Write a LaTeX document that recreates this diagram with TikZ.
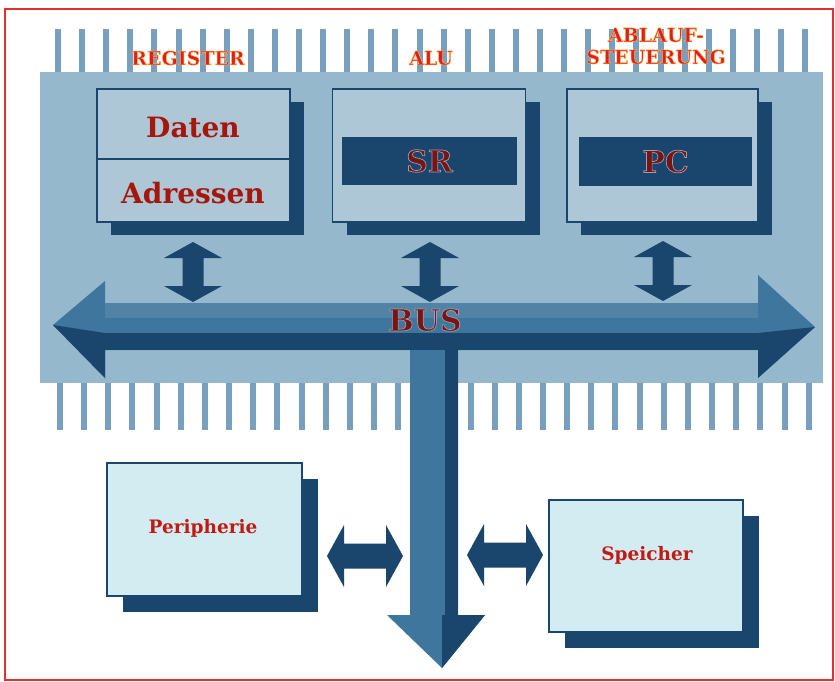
\documentclass[tikz,border=0pt]{standalone}
\usepackage{fontspec}
\setmainfont{DejaVu Serif}
\usetikzlibrary{shadows}
\definecolor{framered}{RGB}{232,45,45}
\definecolor{panel}{RGB}{150,184,205}
\definecolor{stripe}{RGB}{120,160,190}
\definecolor{boxtop}{RGB}{174,199,215}
\definecolor{boxlow}{RGB}{210,236,242}
\definecolor{darkblue}{RGB}{26,70,110}
\definecolor{midblue}{RGB}{62,118,158}
\definecolor{titlered}{RGB}{228,30,20}
\definecolor{textred}{RGB}{165,22,12}
\definecolor{labred}{RGB}{120,20,20}
% outlined text: fill + stroke in a given stroke colour (r g b in 0..1)
\newcommand\outltext[3]{\special{pdf:code q 2 Tr #2 w #1 RG}#3\special{pdf:code Q}}
\tikzset{
  shadowed/.style={drop shadow={shadow xshift=14pt,shadow yshift=-13pt,fill=darkblue,opacity=1}},
  topbox/.style={draw=darkblue,line width=1.2pt,fill=boxtop,minimum width=193pt,minimum height=133pt,inner sep=0pt,shadowed},
  lowbox/.style={draw=darkblue,line width=1.2pt,fill=boxlow,minimum width=195pt,minimum height=133pt,inner sep=0pt,
     drop shadow={shadow xshift=16pt,shadow yshift=-16pt,fill=darkblue,opacity=1}},
  bar/.style={fill=darkblue,minimum width=175pt,minimum height=47pt,inner sep=0pt,
     font=\fontsize{30}{32}\selectfont\bfseries,text=labred},
  title/.style={text=titlered,font=\fontsize{19}{22}\selectfont\bfseries,align=center,inner sep=0pt},
  boxtext/.style={text=textred,font=\fontsize{28}{30}\selectfont\bfseries,inner sep=0pt},
  lowtext/.style={text=titlered!85!black,font=\fontsize{18.5}{20}\selectfont\bfseries,inner sep=0pt},
  vdarrow/.pic={\fill[darkblue] (0,-30) -- (-29,-14) -- (-10.5,-14) -- (-10.5,14) -- (-29,14) -- (0,30)
        -- (29,14) -- (10.5,14) -- (10.5,-14) -- (29,-14) -- cycle;},
  hdarrow/.pic={\fill[darkblue] (-38,0) -- (-21,-31) -- (-21,-12.5) -- (21,-12.5) -- (21,-31) -- (38,0)
        -- (21,31) -- (21,12.5) -- (-21,12.5) -- (-21,31) -- cycle;}
}
\begin{document}
\begin{tikzpicture}[x=1pt,y=-1pt]
\useasboundingbox (0,0) rectangle (835,682);
\fill[white] (0,0) rectangle (835,682);
\draw[framered,line width=2pt] (5,9) rectangle (833,680);
% comb stripes
\foreach \i in {0,...,31}{
  \fill[stripe] ({58+24.1*\i-3},29) rectangle ++(6,45);
  \fill[stripe] ({60+24.15*\i-3},381) rectangle ++(6,49);
}
% panel
\fill[panel] (40,72) rectangle (823,383);
% titles
\node[title] (tReg) at (188,58) {\outltext{1 0.72 0.35}{0.45}{REGISTER}};
\node[title] (tAlu) at (431,58) {\outltext{1 0.72 0.35}{0.45}{ALU}};
\node[title] (tAbl) at (656,46) {\outltext{1 0.72 0.35}{0.45}{ABLAUF-\\STEUERUNG}};
% bus arrow
\fill[midblue] (53,325) -- (105,281) -- (105,303) -- (758,303) -- (758,275) -- (815,327) -- (758,378)
  -- (758,350) -- (458,350) -- (458,615) -- (485,615) -- (442,668) -- (387,615) -- (410,615)
  -- (410,350) -- (105,350) -- (105,378) -- cycle;
\fill[darkblue] (105,333) rectangle (758,350);
\fill[darkblue] (53,325) -- (105,333) -- (105,378) -- cycle;
\fill[darkblue] (815,327) -- (758,333) -- (758,378) -- cycle;
\fill[darkblue] (445,333) rectangle (458,615);
\fill[darkblue] (442,615) -- (485,615) -- (442,668) -- cycle;
\fill[midblue!80!white,opacity=0.5] (105,303) rectangle (758,318);
\node[text=labred,font=\fontsize{30}{32}\selectfont\bfseries,inner sep=0pt] (bus) at (425,320)
  {\outltext{0.62 0.62 0.68}{0.7}{BUS}};
% small arrows
\pic at (193,272) {vdarrow};
\pic at (430,272) {vdarrow};
\pic at (663,271) {vdarrow};
\pic at (365,556) {hdarrow};
\pic at (505,555) {hdarrow};
% upper boxes
\node[topbox] (reg) at (193.5,155.5) {};
\draw[darkblue,line width=1.2pt] (reg.west |- 0,159) -- (reg.east |- 0,159);
\node[boxtext] (daten) at (193,127) {Daten};
\node[boxtext] (adr) at (193,193) {Adressen};
\node[topbox] (alu) at (429,155.5) {};
\node[bar] (sr) at (429.5,161) {\outltext{0.62 0.62 0.68}{0.7}{SR}};
\node[topbox,minimum width=191pt] (abl) at (662.5,155.5) {};
\node[bar,minimum width=173pt,minimum height=49pt] (pc) at (665.5,161.5) {\outltext{0.62 0.62 0.68}{0.7}{PC}};
% lower boxes
\node[lowbox] (per) at (204.5,529.5) {};
\node[lowtext] (pertext) at (203,528) {Peripherie};
\node[lowbox,minimum width=194pt,minimum height=132pt] (spe) at (646,566) {};
\node[lowtext] (spetext) at (647,555) {Speicher};
\end{tikzpicture}
\end{document}
